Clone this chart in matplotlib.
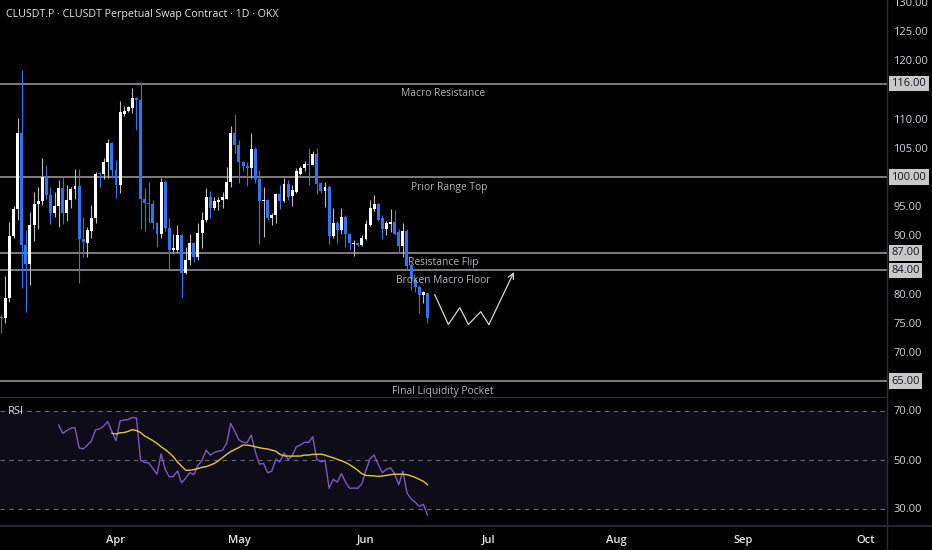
import matplotlib
matplotlib.use('Agg')
import matplotlib.pyplot as plt
import matplotlib.dates as mdates
import numpy as np
import pandas as pd

plt.rcParams['font.family'] = ['Open Sans', 'DejaVu Sans']

# daily candles, CLUSDT.P 1D
opens = [76.0, 75.8, 79.2, 89.8, 94.5, 107.5, 88.3, 85.0, 91.8, 95.4,
         95.8, 100.0, 96.9, 93.9, 95.0, 98.1, 93.8, 96.1, 97.9, 98.5,
         89.4, 88.7, 90.8, 93.0, 100.7, 100.6, 102.6, 105.9, 101.2, 98.6,
         110.8, 111.4, 111.8, 113.5, 113.2, 96.3, 95.6, 95.3, 92.1, 90.2,
         99.1, 91.3, 87.4, 87.5, 90.1, 83.6, 85.8, 88.6, 86.2, 90.4,
         92.6, 96.6, 94.6, 95.7, 96.1, 96.3, 99.2, 107.6, 105.5, 102.6,
         101.9, 101.6, 104.8, 99.6, 95.8, 96.1, 92.9, 93.5, 97.1, 95.9,
         98.8, 96.7, 97.5, 100.6, 101.5, 102.3, 102.1, 103.9, 98.9, 97.6,
         98.3, 89.9, 92.1, 90.9, 93.2, 90.2, 88.5, 88.6, 88.3, 89.4,
         91.8, 94.5, 95.4, 92.9, 91.0, 91.9, 92.2, 90.5, 88.2, 90.8,
         84.9, 82.3, 81.2, 79.8, 80.1]
highs = [76.4, 83.1, 92.3, 95.0, 110.2, 118.4, 90.9, 94.0, 97.5, 98.3,
         103.2, 102.1, 98.3, 97.5, 99.5, 100.2, 98.6, 98.3, 101.4, 101.4,
         93.2, 91.4, 95.2, 100.9, 100.9, 103.2, 106.5, 106.0, 102.9, 113.0,
         112.1, 112.2, 115.2, 113.8, 116.3, 98.1, 99.2, 96.1, 92.3, 99.8,
         99.5, 92.9, 90.3, 91.8, 90.3, 88.0, 90.3, 88.9, 92.1, 94.0,
         98.1, 97.6, 96.6, 96.6, 97.5, 101.8, 108.7, 110.8, 106.3, 102.8,
         102.5, 107.5, 105.2, 101.2, 98.3, 96.3, 93.9, 97.2, 98.6, 99.9,
         99.5, 98.6, 101.5, 101.9, 102.8, 104.9, 104.5, 105.0, 99.1, 99.2,
         98.6, 94.6, 92.4, 94.6, 93.4, 90.4, 89.2, 88.7, 90.1, 92.6,
         96.1, 96.9, 95.6, 93.5, 92.4, 94.5, 94.4, 91.0, 92.1, 91.0,
         85.3, 82.8, 81.5, 80.4, 80.3]
lows = [73.2, 74.9, 78.5, 89.5, 92.6, 80.9, 76.8, 81.4, 89.1, 91.1,
        95.2, 96.3, 91.9, 93.2, 91.5, 91.9, 92.5, 94.6, 96.3, 81.9,
        86.2, 86.3, 89.6, 92.1, 98.2, 99.7, 99.8, 99.8, 96.4, 97.3,
        110.5, 111.1, 110.9, 108.1, 91.0, 90.7, 92.1, 91.1, 88.0, 89.5,
        90.8, 84.2, 87.2, 87.2, 79.2, 83.3, 84.9, 85.5, 85.8, 87.8,
        92.3, 92.9, 94.4, 94.4, 94.6, 96.2, 98.3, 104.1, 99.0, 101.1,
        98.5, 99.9, 98.9, 88.5, 89.7, 92.6, 91.8, 92.1, 94.5, 95.7,
        96.1, 95.0, 97.3, 100.4, 101.1, 98.6, 102.0, 97.0, 97.2, 94.9,
        88.5, 89.6, 88.7, 90.2, 88.0, 87.5, 86.4, 88.2, 88.2, 89.2,
        91.6, 94.1, 92.5, 89.3, 90.1, 90.6, 90.1, 86.9, 86.3, 84.3,
        80.6, 80.3, 76.7, 78.4, 74.9]
closes = [75.8, 79.3, 89.9, 94.5, 107.5, 88.3, 85.0, 91.8, 95.4, 95.8,
          100.0, 96.9, 93.9, 95.0, 98.1, 93.8, 96.1, 97.9, 98.5, 89.4,
          88.8, 90.9, 93.0, 100.6, 100.5, 102.5, 105.9, 101.2, 98.6, 111.1,
          111.4, 112.0, 113.5, 113.2, 96.3, 95.5, 95.3, 92.1, 90.2, 99.1,
          91.2, 87.4, 87.8, 90.1, 83.6, 85.8, 88.6, 86.2, 90.4, 92.6,
          96.6, 94.6, 95.8, 96.1, 96.6, 99.2, 107.6, 105.5, 102.6, 101.9,
          101.6, 104.8, 99.6, 95.8, 96.1, 92.9, 93.5, 97.1, 95.9, 98.8,
          96.6, 97.8, 101.1, 101.5, 102.3, 102.1, 103.9, 98.8, 97.6, 98.2,
          89.9, 92.1, 90.9, 93.2, 90.2, 88.6, 88.7, 88.3, 89.5, 91.9,
          94.6, 95.4, 92.7, 91.0, 92.1, 92.2, 90.3, 88.2, 90.8, 84.7,
          82.5, 81.2, 79.8, 80.2, 75.9]

rsi = [64.1, 60.7, 61.8, 62.8, 63.0, 54.8, 54.3, 55.9, 57.6, 62.1,
       62.5, 63.7, 65.5, 61.4, 57.7, 65.8, 66.1, 66.3, 67.2, 66.9,
       49.7, 48.8, 48.6, 46.3, 44.0, 52.3, 46.0, 42.9, 43.1, 45.3,
       40.5, 42.4, 44.6, 43.8, 47.7, 49.7, 53.8, 51.8, 52.9, 53.4,
       53.8, 56.6, 64.7, 61.4, 58.0, 57.0, 56.9, 60.0, 53.2, 48.1,
       48.4, 44.6, 45.2, 50.1, 49.0, 52.7, 50.0, 51.5, 55.2, 55.9,
       57.0, 57.0, 59.3, 50.1, 49.0, 49.7, 38.3, 41.9, 40.8, 44.2,
       40.8, 38.3, 38.3, 38.3, 40.1, 45.6, 50.4, 51.8, 47.9, 44.6,
       46.0, 46.6, 44.2, 39.7, 45.2, 36.4, 33.9, 32.6, 30.9, 31.7,
       27.3]
rsi_ma = [60.7, 60.4, 60.9, 61.0, 61.5, 62.2, 61.8, 61.0, 59.6, 58.7,
          57.7, 56.6, 55.2, 54.1, 52.7, 51.1, 49.0, 47.3, 45.6, 45.6,
          45.9, 46.3, 46.8, 47.1, 47.7, 48.4, 49.5, 50.8, 52.1, 53.2,
          54.1, 54.9, 55.9, 55.9, 55.6, 55.2, 54.8, 54.5, 54.3, 53.8,
          53.4, 52.1, 51.5, 51.4, 51.4, 51.4, 51.4, 51.8, 51.8, 52.1,
          52.1, 52.2, 51.8, 51.2, 50.7, 50.1, 49.5, 48.8, 47.9, 46.8,
          45.6, 44.2, 43.5, 43.4, 43.3, 43.1, 43.3, 43.5, 43.8, 44.0,
          44.0, 44.0, 43.8, 43.3, 42.7, 41.9, 41.1, 39.7]

levels = [116, 100, 87, 84, 65]
level_names = ['Macro Resistance', 'Prior Range Top', 'Resistance Flip',
               'Broken Macro Floor', 'FInal Liquidity Pocket']
price_ticks = [70, 75, 80, 90, 95, 105, 110, 120, 125, 130]

# projected path drawn after the last candle (days after last candle, price)
path_days = [1.8, 5.1, 7.9, 10.0, 13.0, 15.0, 21.1]
path_prices = [79.8, 74.7, 77.6, 74.7, 76.9, 74.7, 83.7]

dates = pd.date_range('2025-03-04', periods=len(closes), freq='D')
x = mdates.date2num(dates)

BG = '#000000'
UP = '#ffffff'
DOWN = '#2f74f0'
TXT = '#d1d4dc'
GRID = '#2a2e39'

fig = plt.figure(figsize=(9.32, 5.5), dpi=100, facecolor=BG)
W, H = 932, 550
ax = fig.add_axes([0, (H - 397) / H, 886.5 / W, 397 / H], facecolor=BG)
ax_r = fig.add_axes([0, (H - 525) / H, 886.5 / W, 127 / H], facecolor=BG, sharex=ax)

# candles
o = np.array(opens); c = np.array(closes)
up = c >= o
body_lo = np.minimum(o, c)
body_h = np.maximum(np.abs(c - o), 0.15)
ax.vlines(x[up], np.array(lows)[up], np.array(highs)[up], color='#bdbdbd', lw=0.8, zorder=2)
ax.vlines(x[~up], np.array(lows)[~up], np.array(highs)[~up], color=DOWN, lw=0.8, zorder=2)
ax.bar(x[up], body_h[up], bottom=body_lo[up], width=0.72, color=UP, lw=0, zorder=3)
ax.bar(x[~up], body_h[~up], bottom=body_lo[~up], width=0.72, color=DOWN, lw=0, zorder=3)

# horizontal levels + names
for lvl, name in zip(levels, level_names):
    ax.axhline(lvl, color='#7d7d7d', lw=1.4, zorder=1)
    xt = 0.507 if name == 'Prior Range Top' else 0.5
    ax.annotate(name, xy=(xt, lvl), xycoords=('axes fraction', 'data'),
                xytext=(0, -10), textcoords='offset pixels',
                ha='center', va='center', color='#b2b5be', fontsize=7.4)
    ax.annotate(f'{lvl:.2f}', xy=(1, lvl), xycoords=('axes fraction', 'data'),
                xytext=(5, 0), textcoords='offset pixels', ha='left', va='center',
                color='#131722', fontsize=8, annotation_clip=False, zorder=10,
                bbox=dict(boxstyle='square,pad=0.2', fc='#c8c8c8', ec='none'))

# projected zigzag
px = x[-1] + np.array(path_days)
ax.plot(px[:-1], path_prices[:-1], color='#d6d6d6', lw=0.9, zorder=4)
ax.annotate('', xy=(px[-1], path_prices[-1]), xytext=(px[-2], path_prices[-2]),
            arrowprops=dict(arrowstyle='->', color='#d6d6d6', lw=0.9,
                            shrinkA=0, shrinkB=0, mutation_scale=10), zorder=4)

apr1 = mdates.date2num(pd.Timestamp('2025-04-01'))
ax.set_xlim(apr1 - 116 / 4.098, apr1 + (886.5 - 116) / 4.098)
ax.set_ylim(100 - 220 / 5.83, 100 + 177 / 5.83)
ax.set_yticks(price_ticks)
ax.yaxis.set_major_formatter(matplotlib.ticker.FormatStrFormatter('%.2f'))
ax.yaxis.tick_right()
ax.tick_params(axis='y', length=0, pad=5, labelcolor=TXT, labelsize=8)
ax.tick_params(axis='x', length=0, labelbottom=False)
for s in ['top', 'left']:
    ax.spines[s].set_visible(False)
ax.spines['right'].set_color(GRID)
ax.spines['bottom'].set_color(GRID)

ax.text(6 / 886.5, 1 - 14 / 397, 'CLUSDT.P · CLUSDT Perpetual Swap Contract · 1D · OKX',
        transform=ax.transAxes, color='#e6e6e6', fontsize=7.7, va='center', ha='left')

# RSI pane
ax_r.axhspan(30, 70, color='#0e0c18', lw=0, zorder=0)
for lv in [70, 50, 30]:
    ax_r.axhline(lv, color='#6a6a6a', lw=0.8, ls=(0, (4, 4)), zorder=1)
ax_r.plot(x[14:], rsi, color='#7e57c2', lw=1.0, zorder=3)
ax_r.plot(x[27:], rsi_ma, color='#e3c53a', lw=1.0, zorder=4)
ax_r.set_ylim(50 - 65.5 / 2.45, 50 + 61.5 / 2.45)
ax_r.set_yticks([30, 50, 70])
ax_r.yaxis.set_major_formatter(matplotlib.ticker.FormatStrFormatter('%.2f'))
ax_r.yaxis.tick_right()
ax_r.tick_params(axis='y', length=0, pad=5, labelcolor=TXT, labelsize=8)
ax_r.xaxis.set_major_locator(mdates.MonthLocator())
ax_r.xaxis.set_major_formatter(mdates.DateFormatter('%b'))
ax_r.tick_params(axis='x', length=0, pad=7, labelcolor='#e6e6e6', labelsize=8)
for lab in ax_r.get_xticklabels():
    lab.set_fontweight('semibold')
for s in ['top', 'left', 'bottom']:
    ax_r.spines[s].set_visible(False)
ax_r.spines['right'].set_color(GRID)
ax_r.text(8 / 886.5, 50 + 61.5 / 2.45 - 13 / 2.45, 'RSI', transform=ax_r.get_yaxis_transform(),
          color=TXT, fontsize=8, va='center', ha='left')
ax_r.set_xlim(apr1 - 116 / 4.098, apr1 + (886.5 - 116) / 4.098)

# time axis separator and price axis separator across the whole figure
fig.add_artist(plt.Line2D([0, 1], [(H - 525.5) / H] * 2, color=GRID, lw=1.2))
fig.add_artist(plt.Line2D([886.5 / W] * 2, [0, 1], color=GRID, lw=1))

fig.savefig('out.png', dpi=100, facecolor=BG)
